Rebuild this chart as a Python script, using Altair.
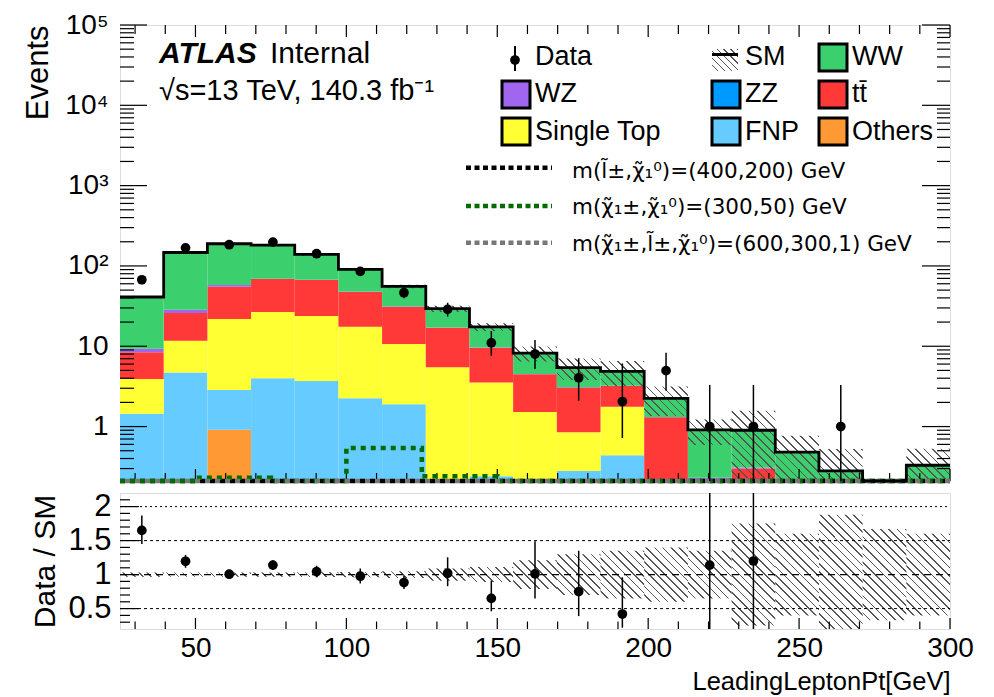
import math
import altair as alt
import pandas as pd

FONT = "Liberation Sans"

# ---------------- data ----------------
edges = [25.0, 39.47, 53.95, 68.42, 82.89, 97.37, 111.84, 126.32, 140.79, 155.26,
         169.74, 184.21, 198.68, 213.16, 227.63, 242.11, 256.58, 271.05, 285.53, 300.0]

processes = ["Others", "FNP", "Single Top", "tt\u0304", "ZZ", "WZ", "WW"]   # stack order bottom -> top
colors = ["#ff9933", "#66ccff", "#ffff33", "#ff3838", "#0099ff", "#a066f0", "#3ccf6e"]

others     = [0, 0, 0.91, 0, 0, 0, 0, 0, 0, 0, 0, 0, 0, 0, 0, 0, 0, 0, 0]
fnp        = [1.44, 4.7, 1.95, 3.99, 3.7, 2.25, 1.89, 0, 0.24, 0, 0.28, 0.44, 0, 0, 0, 0, 0, 0, 0]
single_top = [2.48, 7.0, 19.0, 22.7, 20.1, 15.25, 8.8, 5.47, 3.29, 1.52, 0.57, 1.33, 0, 0, 0, 0, 0, 0, 0]
ttbar      = [4.48, 14.2, 33.2, 42.0, 43.0, 30.3, 20.4, 11.5, 6.07, 2.95, 2.21, 1.43, 1.31, 0, 0.30, 0, 0, 0, 0]
zz         = [0.05, 0.1, 0.2, 0.2, 0.2, 0.1, 0.1, 0.05, 0.03, 0.02, 0.02, 0.01, 0, 0, 0, 0, 0, 0, 0]
wz         = [0.88, 2.5, 2.6, 0.6, 0.5, 0.3, 0.2, 0.15, 0.07, 0.03, 0.02, 0.01, 0.01, 0.23, 0.01, 0, 0, 0, 0]
ww         = [31.7, 118.5, 131.1, 112.5, 71.5, 42.3, 24.2, 12.2, 7.7, 3.68, 2.32, 1.65, 0.93, 0.68, 0.59, 0.48, 0.28, 0, 0.33]
series = [others, fnp, single_top, ttbar, zz, wz, ww]

# relative SM uncertainty per bin
band_rel = [0.03, 0.03, 0.03, 0.03, 0.035, 0.04, 0.05, 0.09, 0.11, 0.21, 0.30, 0.35, 0.40, 0.35, 0.75, 0.60, 0.88, 0.67, 0.60]

data_vals = [67.3, 168, 183.6, 198, 142, 85.5, 46.4, 28.8, 11.0, 8.0, 4.04, 2.05, 4.97, 1.0, 1.0, None, 1.0, None, None]
data_lo   = [59, 155, 170, 184, 130, 76, 39.5, 23.4, 7.6, 5.2, 2.1, 0.72, 2.8, 0, 0, None, 0, None, None]
data_hi   = [76, 181, 198, 212, 154, 95, 53.5, 34.8, 15.5, 12.0, 7.1, 6.1, 8.3, 3.3, 3.3, None, 3.3, None, None]

ratio_vals = [1.65, 1.196, 1.006, 1.14, 1.044, 0.976, 0.883, 1.02, 0.65, 1.01, 0.75, 0.42, None, 1.14, 1.2, None, None, None, None]
ratio_lo   = [1.45, 1.10, 0.94, 1.07, 0.96, 0.87, 0.79, 0.83, 0.46, 0.65, 0.39, 0.22, None, 0.0, 0.0, None, None, None, None]
ratio_hi   = [1.87, 1.29, 1.07, 1.21, 1.13, 1.09, 0.98, 1.255, 0.91, 1.49, 1.35, 0.96, None, 3.3, 3.3, None, None, None, None]

sig_edges = [25, 50, 75, 100, 125, 150, 175, 200, 225, 250, 275, 300]
sig_black = [0.05, 0.05, 0.05, 0.05, 0.05, 0.05, 0.05, 0.05, 0.05, 0.05, 0.05]
sig_green = [0.05, 0.23, 0.05, 0.54, 0.24, 0.05, 0.05, 0.05, 0.05, 0.05, 0.05]
sig_gray  = [0.05, 0.05, 0.05, 0.05, 0.05, 0.05, 0.05, 0.05, 0.05, 0.05, 0.05]

y_major_main = [1, 10, 100, 1000, 10000, 100000]
x_major = [50, 100, 150, 200, 250, 300]
ratio_major = [0.5, 1, 1.5, 2]

# ---------------- layout constants ----------------
W, H1, H2 = 830, 456, 136
FLOOR = 1e-3
Y_DOM = [0.21, 1e5]
R_DOM = [0.2, 2.2]

xs = alt.Scale(domain=[25, 300], nice=False, zero=False)
ys = alt.Scale(type="log", domain=Y_DOM, nice=False, clamp=True)
rs = alt.Scale(domain=R_DOM, nice=False, zero=False, clamp=True)

label_expr = ("datum.value == 1 ? '1' : datum.value == 10 ? '10' : datum.value == 100 ? '10\u00b2' : "
              "datum.value == 1000 ? '10\u00b3' : datum.value == 10000 ? '10\u2074' : '10\u2075'")
y_axis = alt.Axis(values=y_major_main, labelExpr=label_expr, ticks=False, domain=False, grid=False,
                  labelFontSize=28, labelPadding=12, title="Events", titleFontSize=31,
                  titleFontWeight="normal", titleAnchor="end", titleX=-73, titleBaseline="alphabetic")
r_axis = alt.Axis(values=ratio_major, labelExpr="'' + datum.value", ticks=False, domain=False, grid=False,
                  labelFontSize=31, labelPadding=9, title="Data / SM", titleFontSize=30,
                  titleFontWeight="normal", titleAnchor="middle", titleX=-66, titleBaseline="alphabetic")
x_axis_r = alt.Axis(values=x_major, ticks=False, domain=False, grid=False, labelFontSize=28,
                    labelPadding=5, labelFlush=False, title="LeadingLeptonPt[GeV]", titleFontSize=25.5,
                    titleFontWeight="normal", titleAnchor="end", titleY=60, titleBaseline="alphabetic")


def hatch(w, h, period=8.5, color="#555555", frac=0.2):
    """45-degree '\\' hatching for a box of w x h pixels (gradient in bounding-box units)."""
    h = max(h, 0.5)
    n = max(1, round((w + h) / period))
    k = (w + h) / (w * w + h * h)
    stops = []
    for i in range(n):
        a = i / n
        b = (i + 1 - frac) / n
        c = (i + 1) / n
        stops += [alt.GradientStop(color="rgba(255,255,255,0)", offset=a),
                  alt.GradientStop(color="rgba(255,255,255,0)", offset=b),
                  alt.GradientStop(color=color, offset=b),
                  alt.GradientStop(color=color, offset=c)]
    return alt.LinearGradient(gradient="linear", stops=stops, x1=0, y1=1, x2=k * w, y2=1 - k * h)


# ---------------- tables ----------------
rows = []
totals = [0.0] * 19
for name, vals in zip(processes, series):
    for i, v in enumerate(vals):
        lo = totals[i]
        hi = lo + v
        if v > 0:
            rows.append({"proc": name, "x0": edges[i], "x1": edges[i + 1],
                         "lo": max(lo, FLOOR), "hi": hi})
        totals[i] = hi
stack_df = pd.DataFrame(rows)

outline_df = pd.DataFrame({"x": edges, "y": [max(t, FLOOR) for t in totals] + [max(totals[-1], FLOOR)]})

centers = [(a + b) / 2 for a, b in zip(edges[:-1], edges[1:])]
data_df = pd.DataFrame([{"x": c, "y": v, "lo": max(l, FLOOR), "hi": h}
                        for c, v, l, h in zip(centers, data_vals, data_lo, data_hi) if v is not None])
ratio_df = pd.DataFrame([{"x": c, "y": v, "lo": l, "hi": h}
                         for c, v, l, h in zip(centers, ratio_vals, ratio_lo, ratio_hi) if v is not None])


def sig_df(vals):
    return pd.DataFrame({"x": sig_edges, "y": vals + [vals[-1]]})


y_minor_main = [m * 10 ** e for e in range(-1, 5) for m in range(2, 10) if 0.21 <= m * 10 ** e <= 1e5]
x_minor = [v for v in range(30, 300, 10) if v % 50 != 0]
r_minor = [round(0.3 + 0.1 * k, 1) for k in range(19)]
r_minor = [v for v in r_minor if v not in (0.5, 1.0, 1.5, 2.0)]

BIN_W = W / 19.0


# ---------------- helpers ----------------
def one(s=""):
    return pd.DataFrame({"t": [s]})


def text_at(s, x, y, size=27, font=FONT, **kw):
    return alt.Chart(one(s)).mark_text(align="left", baseline="alphabetic", fontSize=size, font=font,
                                       color="black", **kw).encode(
        text="t:N", x=alt.value(x), y=alt.value(y))


def rect_at(x0, x1, y0, y1, **kw):
    return alt.Chart(one()).mark_rect(**kw).encode(
        x=alt.value(x0), x2=alt.value(x1), y=alt.value(y0), y2=alt.value(y1))


def rule_at(x0, x1, y0, y1, **kw):
    return alt.Chart(one()).mark_rule(**kw).encode(
        x=alt.value(x0), x2=alt.value(x1), y=alt.value(y0), y2=alt.value(y1))


def yticks(vals, scale, axis, length, side="left", width=1.2):
    x0, x1 = (0, length) if side == "left" else (W, W - length)
    return alt.Chart(pd.DataFrame({"v": vals})).mark_rule(color="black", strokeWidth=width).encode(
        y=alt.Y("v:Q", scale=scale, axis=axis), x=alt.value(x0), x2=alt.value(x1))


def xticks(vals, h, length, side="bottom", axis=None, width=1.2):
    y0, y1 = (h, h - length) if side == "bottom" else (0, length)
    return alt.Chart(pd.DataFrame({"v": vals})).mark_rule(color="black", strokeWidth=width).encode(
        x=alt.X("v:Q", scale=xs, axis=axis), y=alt.value(y0), y2=alt.value(y1))


# ---------------- main panel ----------------
bars = alt.Chart(stack_df).mark_rect(strokeWidth=0).encode(
    x=alt.X("x0:Q", scale=xs, axis=None), x2="x1:Q",
    y=alt.Y("hi:Q", scale=ys, axis=y_axis), y2="lo:Q",
    fill=alt.Fill("proc:N", scale=alt.Scale(domain=processes, range=colors), legend=None))

# hatched SM uncertainty, one layer per bin so every bin gets 45-degree hatching
LOG_SPAN = math.log10(Y_DOM[1] / Y_DOM[0])
band_layers = []
for i, (t, r) in enumerate(zip(totals, band_rel)):
    if t <= 0:
        continue
    lo = max(t * (1 - r), FLOOR)
    hi = t * (1 + r)
    plo, phi = max(lo, Y_DOM[0]), min(hi, Y_DOM[1])
    hpx = math.log10(phi / plo) * H1 / LOG_SPAN
    band_layers.append(
        alt.Chart(pd.DataFrame({"x0": [edges[i]], "x1": [edges[i + 1]], "lo": [lo], "hi": [hi]}))
        .mark_rect(fill=hatch(BIN_W, hpx), strokeWidth=0).encode(
            x=alt.X("x0:Q", scale=xs, axis=None), x2="x1:Q",
            y=alt.Y("hi:Q", scale=ys, axis=y_axis), y2="lo:Q"))

outline = alt.Chart(outline_df).mark_line(interpolate="step-after", color="black", strokeWidth=2.8).encode(
    x=alt.X("x:Q", scale=xs, axis=None), y=alt.Y("y:Q", scale=ys, axis=y_axis))


def sig_line(vals, color, offset):
    return alt.Chart(sig_df(vals)).mark_line(interpolate="step-after", color=color, strokeWidth=4.5,
                                             strokeDash=[5, 5], strokeDashOffset=offset).encode(
        x=alt.X("x:Q", scale=xs, axis=None), y=alt.Y("y:Q", scale=ys, axis=y_axis))


sig_b = sig_line(sig_black, "#000000", 0)
sig_g = sig_line(sig_green, "#006b00", 0)
sig_gr = sig_line(sig_gray, "#777777", 5)

err_main = alt.Chart(data_df).mark_rule(color="black", strokeWidth=1.5).encode(
    x=alt.X("x:Q", scale=xs, axis=None), y=alt.Y("lo:Q", scale=ys, axis=y_axis), y2="hi:Q")
pts_main = alt.Chart(data_df).mark_point(filled=True, shape="circle", size=95, color="black", opacity=1).encode(
    x=alt.X("x:Q", scale=xs, axis=None), y=alt.Y("y:Q", scale=ys, axis=y_axis))

main_ticks = [
    yticks(y_major_main, ys, y_axis, 27, "left"), yticks(y_minor_main, ys, y_axis, 14, "left"),
    yticks(y_major_main, ys, y_axis, 28, "right"), yticks(y_minor_main, ys, y_axis, 13, "right"),
    xticks(x_major, H1, 12, "bottom"), xticks(x_minor, H1, 8, "bottom"),
    xticks(x_major, H1, 12, "top"), xticks(x_minor, H1, 9, "top"),
]

# text and legend (pixel positions inside the plot area)
annot = [
    text_at("ATLAS", 39, 37.7, size=30, fontWeight="bold", fontStyle="italic"),
    text_at("Internal", 150, 37.7, size=30),
    text_at("\u221as=13 TeV, 140.3 fb\u207b\u00b9", 39, 75.3, size=29),
]

row_base = [39.5, 77, 114.5]
row_mid = [32.5, 69.5, 106.5]
col_box = [(382, 410), (592, 620), (699, 727)]
col_txt = [415, 625, 732]
legend_grid = [
    [None, None, "WW"],
    ["WZ", "ZZ", "tt\u0304"],
    ["Single Top", "FNP", "Others"],
]
leg = []
for r, row in enumerate(legend_grid):
    for c, name in enumerate(row):
        if name is None:
            continue
        col = colors[processes.index(name)]
        x0, x1 = col_box[c]
        leg.append(rect_at(x0, x1, row_mid[r] - 13.5, row_mid[r] + 13.5, fill=col, stroke="black", strokeWidth=3))
        leg.append(text_at(name, col_txt[c], row_base[r]))
# Data entry
leg.append(rule_at(395, 395, 21, 46, color="black", strokeWidth=2))
leg.append(alt.Chart(one()).mark_point(filled=True, shape="circle", size=95, color="black", opacity=1).encode(
    x=alt.value(395), y=alt.value(35)))
leg.append(text_at("Data", col_txt[0], row_base[0]))
# SM entry
leg.append(rect_at(592, 618, 24, 46, fill=hatch(26, 22, period=7), strokeWidth=0))
leg.append(rule_at(592, 618, 29.5, 29.5, color="black", strokeWidth=3))
leg.append(text_at("SM", col_txt[1], row_base[0]))
# signals
sig_rows = [(142.7, 152.7, "#000000", "m(l\u0303\u00b1,\u03c7\u0303\u2081\u2070)=(400,200) GeV"),
            (181.0, 189.3, "#006b00", "m(\u03c7\u0303\u2081\u00b1,\u03c7\u0303\u2081\u2070)=(300,50) GeV"),
            (217.7, 226.0, "#777777", "m(\u03c7\u0303\u2081\u00b1,l\u0303\u00b1,\u03c7\u0303\u2081\u2070)=(600,300,1) GeV")]
for ly, tb, col, lab in sig_rows:
    leg.append(rule_at(346, 432, ly, ly, color=col, strokeWidth=4.5, strokeDash=[5, 3.5]))
    leg.append(text_at(lab, 452, tb, size=21.5, font="DejaVu Sans"))

top = alt.layer(bars, *band_layers, *main_ticks, sig_b, sig_g, sig_gr, outline, err_main, pts_main,
                *annot, *leg).properties(width=W, height=H1)

# ---------------- ratio panel ----------------
band_r_layers = []
for i, r in enumerate(band_rel):
    lo, hi = 1 - r, 1 + r
    hpx = (min(hi, R_DOM[1]) - max(lo, R_DOM[0])) * H2 / (R_DOM[1] - R_DOM[0])
    band_r_layers.append(
        alt.Chart(pd.DataFrame({"x0": [edges[i]], "x1": [edges[i + 1]], "lo": [lo], "hi": [hi]}))
        .mark_rect(fill=hatch(BIN_W, hpx), strokeWidth=0).encode(
            x=alt.X("x0:Q", scale=xs, axis=x_axis_r), x2="x1:Q",
            y=alt.Y("hi:Q", scale=rs, axis=r_axis), y2="lo:Q"))


def hline(v, dash, width=1.0):
    return alt.Chart(pd.DataFrame({"v": [v]})).mark_rule(color="black", strokeWidth=width, strokeDash=dash).encode(
        y=alt.Y("v:Q", scale=rs, axis=r_axis), x=alt.value(0), x2=alt.value(W))


ref_lines = [hline(0.5, [3, 3]), hline(1.5, [3, 3]), hline(2.0, [2, 3]), hline(1.0, [7, 5], 1.2)]

err_r = alt.Chart(ratio_df).mark_rule(color="black", strokeWidth=1.5).encode(
    x=alt.X("x:Q", scale=xs, axis=x_axis_r), y=alt.Y("lo:Q", scale=rs, axis=r_axis), y2="hi:Q")
pts_r = alt.Chart(ratio_df).mark_point(filled=True, shape="circle", size=95, color="black", opacity=1).encode(
    x=alt.X("x:Q", scale=xs, axis=x_axis_r), y=alt.Y("y:Q", scale=rs, axis=r_axis))

ratio_ticks = [
    yticks(ratio_major, rs, r_axis, 19, "left"), yticks(r_minor, rs, r_axis, 10, "left"),
    xticks(x_major, H2, 11, "bottom", axis=x_axis_r), xticks(x_minor, H2, 7.5, "bottom", axis=x_axis_r),
]

bottom = alt.layer(*band_r_layers, *ref_lines, *ratio_ticks, err_r, pts_r).properties(width=W, height=H2)

chart = alt.vconcat(top, bottom, spacing=12, bounds="flush").properties(
    padding={"left": 13, "top": 2, "right": 10, "bottom": 0}
).configure_view(stroke="black", strokeWidth=2).configure_axis(
    labelFont=FONT, titleFont=FONT, labelColor="black", titleColor="black", titleFontWeight="normal"
).configure(font=FONT)

chart.save("out.html", embed_options={"renderer": "svg", "actions": False})
